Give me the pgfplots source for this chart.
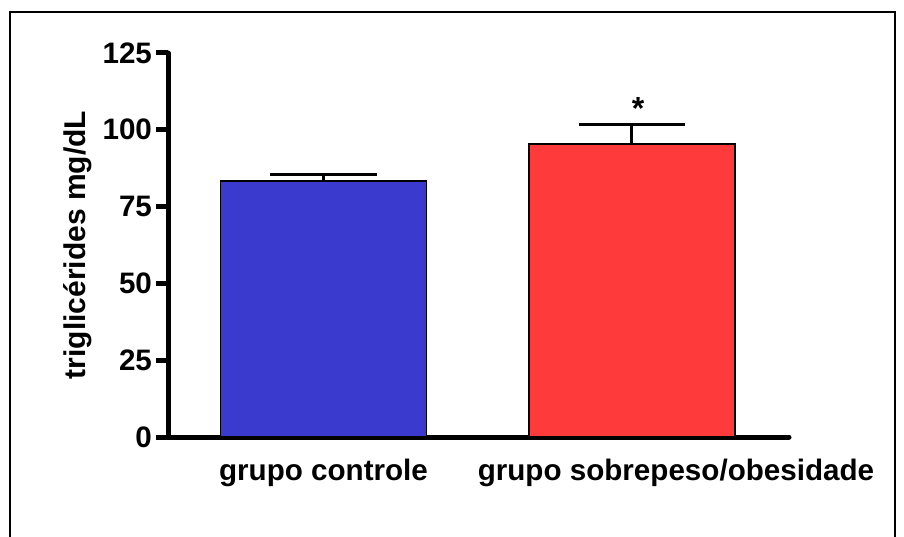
\documentclass[border=0pt]{standalone}
\usepackage{pgfplots}
\pgfplotsset{compat=1.18}
\usepackage{fontspec}
\setmainfont{Liberation Sans}
\definecolor{barblue}{RGB}{58,58,206}
\definecolor{barred}{RGB}{255,58,58}
\begin{document}
\begin{tikzpicture}[x=1pt,y=1pt]
\useasboundingbox (0,0) rectangle (452,268);
\draw[line width=1pt] (5,-2) -- (5,262) -- (447.5,262) -- (447.5,-2);
\begin{axis}[
  at={(84pt,49.5pt)}, anchor=south west,
  scale only axis, width=310.5pt, height=192pt,
  axis lines*=left,
  axis line style={line width=2.5pt, line cap=round},
  ymin=0, ymax=125, ytick={0,25,50,75,100,125},
  xmin=0.496, xmax=2.509,
  xtick={1,2}, xticklabels={grupo controle, \hspace*{44pt}grupo sobrepeso/obesidade},
  xtick style={draw=none},
  ytick style={line width=2.5pt, black},
  tick align=outside, major tick length=6pt,
  tick label style={font=\fontsize{14.8}{17}\selectfont\bfseries},
  /pgf/number format/assume math mode=true,
  xticklabel style={yshift=-1.5pt},
  yticklabel style={xshift=1.5pt},
  ylabel={triglicérides mg/dL},
  ylabel style={font=\fontsize{15}{18}\selectfont\bfseries, at={(axis description cs:-0.145,0.5)}, anchor=center},
  clip=false,
]
\addplot[ybar, bar width=0.668, bar shift=0pt, fill=barblue, draw=black, line width=0.75pt,
  error bars/.cd, y dir=plus, y explicit,
  error bar style={line width=1.5pt, black},
  error mark options={rotate=90, mark size=26.75pt, line width=1.5pt, black}]
  coordinates {(1,83.3) +- (0,2.3)};
\addplot[ybar, bar width=0.668, bar shift=0pt, fill=barred, draw=black, line width=0.75pt,
  error bars/.cd, y dir=plus, y explicit,
  error bar style={line width=1.5pt, black},
  error mark options={rotate=90, mark size=26.5pt, line width=1.5pt, black}]
  coordinates {(2,95.4) +- (0,6.2)};
\node[font=\fontsize{16}{18}\selectfont\bfseries, anchor=base, yshift=2.7pt, xshift=3pt] at (axis cs:2,101.6) {*};
\end{axis}
\end{tikzpicture}
\end{document}
